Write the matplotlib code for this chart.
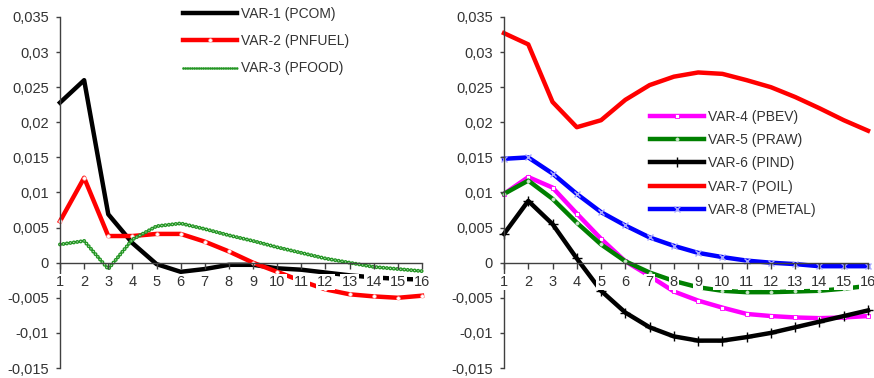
import matplotlib

matplotlib.use("Agg")
import matplotlib.pyplot as plt
from matplotlib.ticker import FuncFormatter

plt.rcParams["font.family"] = ["Liberation Sans", "DejaVu Sans"]
plt.rcParams["lines.scale_dashes"] = False

steps = list(range(1, 17))

# left panel: aggregate indices
pcom = [0.0228, 0.0260, 0.0069, 0.0028, -0.0002, -0.0013, -0.0009, -0.0003,
        -0.0003, -0.0008, -0.0010, -0.0014, -0.0018, -0.0021, -0.0023, -0.0024]
pnfuel = [0.0059, 0.0121, 0.0038, 0.0038, 0.0041, 0.0041, 0.0030, 0.0016,
          0.0000, -0.0013, -0.0026, -0.0038, -0.0045, -0.0048, -0.0050, -0.0047]
pfood = [0.0026, 0.0031, -0.0009, 0.0033, 0.0052, 0.0056, 0.0048, 0.0039,
         0.0031, 0.0022, 0.0014, 0.0006, 0.0000, -0.0006, -0.0009, -0.0012]

# right panel: sub-indices
pbev = [0.0098, 0.0122, 0.0107, 0.0070, 0.0034, 0.0002, -0.0019, -0.0041,
        -0.0054, -0.0064, -0.0073, -0.0076, -0.0078, -0.0079, -0.0078, -0.0076]
praw = [0.0098, 0.0117, 0.0091, 0.0057, 0.0026, 0.0002, -0.0014, -0.0026,
        -0.0035, -0.0040, -0.0042, -0.0042, -0.0041, -0.0040, -0.0037, -0.0033]
pind = [0.0041, 0.0088, 0.0055, 0.0006, -0.0040, -0.0071, -0.0092, -0.0105,
        -0.0111, -0.0111, -0.0106, -0.0100, -0.0092, -0.0084, -0.0076, -0.0068]
poil = [0.0327, 0.0311, 0.0229, 0.0193, 0.0203, 0.0232, 0.0253, 0.0265,
        0.0271, 0.0269, 0.0260, 0.0250, 0.0236, 0.0220, 0.0203, 0.0188]
pmetal = [0.0148, 0.0150, 0.0127, 0.0098, 0.0072, 0.0053, 0.0036, 0.0024,
          0.0014, 0.0008, 0.0003, 0.0000, -0.0002, -0.0005, -0.0005, -0.0005]

y_ticks = [-0.015, -0.01, -0.005, 0, 0.005, 0.01, 0.015, 0.02, 0.025, 0.03, 0.035]

W, H = 874, 378
fig = plt.figure(figsize=(W / 100, H / 100), dpi=100)
ax_l = fig.add_axes([60 / W, 10 / H, 362 / W, 351 / H])
ax_r = fig.add_axes([504 / W, 10 / H, 364 / W, 351 / H])


def comma_fmt(v, _pos):
    if abs(v) < 1e-12:
        return "0"
    return ("%g" % round(v, 4)).replace(".", ",")


def style_axes(ax):
    ax.set_xlim(1, 16)
    ax.set_ylim(-0.015, 0.035)
    # axis on top of the lines so the white label boxes cut through them
    ax.set_axisbelow(False)
    ax.spines["top"].set_visible(False)
    ax.spines["right"].set_visible(False)
    ax.spines["left"].set_position(("data", 1))
    ax.spines["bottom"].set_position(("data", 0))
    for s in ("left", "bottom"):
        ax.spines[s].set_color("#404040")
        ax.spines[s].set_linewidth(1.0)
    ax.set_xticks(steps)
    ax.set_yticks(y_ticks)
    ax.yaxis.set_major_formatter(FuncFormatter(comma_fmt))
    ax.tick_params(axis="y", direction="out", length=3, width=1, pad=5,
                   labelsize=10.5, colors="#404040", labelcolor="#333333")
    ax.tick_params(axis="x", direction="out", length=4, width=1, pad=5,
                   labelsize=10.5, colors="#404040", labelcolor="#333333")
    for tick in ax.xaxis.get_major_ticks():
        tick.label1.set_bbox(dict(facecolor="white", edgecolor="none", pad=0.8))
    ax.patch.set_visible(False)


style_axes(ax_l)
style_axes(ax_r)

lw = 3.2
leg_kw = dict(frameon=False, fontsize=10, handlelength=3.9, handletextpad=0.3,
              borderpad=0, borderaxespad=0, bbox_transform=fig.transFigure,
              loc="upper left")

# left panel
h_nf, = ax_l.plot(steps, pnfuel, color="#ff0000", lw=lw, marker="o", ms=2.6,
                  mfc="white", mec="#ffb0b0", mew=0.4, clip_on=False,
                  label="VAR-2 (PNFUEL)")
h_pc, = ax_l.plot(steps, pcom, color="black", lw=lw, clip_on=False,
                  label="VAR-1 (PCOM)", zorder=1.9)
# beaded green line: green dots with pale centres
ax_l.plot(steps, pfood, color="#249624", lw=2.9, ls=(0, (0.01, 2.5)),
          dash_capstyle="round", clip_on=False)
ax_l.plot(steps, pfood, color="#e4f2e4", lw=0.9, ls=(0, (0.01, 2.5)),
          dash_capstyle="round", clip_on=False)
h_fd, = ax_l.plot([], [], color="#249624", lw=2.0, ls=(0, (0.01, 1.6)),
                  dash_capstyle="round", label="VAR-3 (PFOOD)")

leg_l = ax_l.legend(handles=[h_pc, h_nf, h_fd],
                    bbox_to_anchor=(183 / W, 1 - 7 / H),
                    labelspacing=0.95, **leg_kw)

# right panel
h_oil, = ax_r.plot(steps, poil, color="#ff0000", lw=lw, clip_on=False,
                   label="VAR-7 (POIL)")
h_met, = ax_r.plot(steps, pmetal, color="#0000ff", lw=lw, marker="x", ms=5,
                   mec="#a8a8ff", mew=1.0, clip_on=False,
                   label="VAR-8 (PMETAL)")
h_bev, = ax_r.plot(steps, pbev, color="#ff00ff", lw=lw, marker="s", ms=3,
                   mfc="white", mec="#ff00ff", mew=0.6, clip_on=False,
                   label="VAR-4 (PBEV)")
h_raw, = ax_r.plot(steps, praw, color="#008000", lw=lw, marker="o", ms=2.4,
                   mfc="#c8e6c8", mec="#c8e6c8", mew=0.3, clip_on=False,
                   label="VAR-5 (PRAW)")
h_ind, = ax_r.plot(steps, pind, color="black", lw=lw, marker="+", ms=7,
                   mec="black", mew=1.0, clip_on=False,
                   label="VAR-6 (PIND)")

leg_r = ax_r.legend(handles=[h_bev, h_raw, h_ind, h_oil, h_met],
                    bbox_to_anchor=(650 / W, 1 - 110 / H),
                    labelspacing=0.66, **leg_kw)

for leg in (leg_l, leg_r):
    for t in leg.get_texts():
        t.set_color("#333333")

fig.savefig("out.png", dpi=100)
